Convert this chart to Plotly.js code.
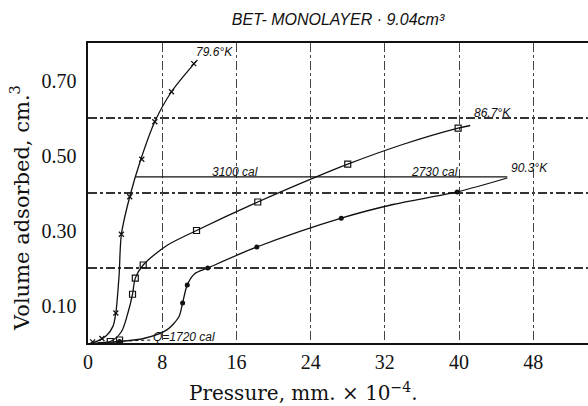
<!DOCTYPE html>
<html>
<head>
<meta charset="utf-8">
<script src="https://cdn.plot.ly/plotly-3.0.1.min.js"></script>
<style>html,body{margin:0;padding:0;background:#fff;}#chart{width:588px;height:406px;}</style>
</head>
<body>
<div id="chart"></div>
<script>
// ---- data ----
const xTicks = [0, 8, 16, 24, 32, 40, 48];
const yTickVals = [0.1, 0.3, 0.5, 0.7];
const yTickText = ['0.10', '0.30', '0.50', '0.70'];
const yGridVals = [0.2, 0.4, 0.6];

// 79.6 K isotherm (smooth curve + measured points)
const c796_x = [0.3, 1.0, 2.0, 2.7, 3.0, 3.35, 3.6, 4.5, 5.7, 7.2, 9.0, 11.8];
const c796_y = [0.0, 0.005, 0.02, 0.045, 0.08, 0.18, 0.29, 0.39, 0.49, 0.59, 0.67, 0.755];
const p796_x = [0.5, 1.5, 3.0, 3.6, 4.5, 5.8, 7.2, 9.0, 11.4];
const p796_y = [0.003, 0.012, 0.08, 0.29, 0.39, 0.49, 0.59, 0.67, 0.745];

// 86.7 K isotherm
const c867_x = [0.3, 2.4, 3.6, 4.3, 4.8, 5.1, 5.95, 8.5, 11.7, 18.3, 24.6, 28.0, 34.0, 39.9, 41.2];
const c867_y = [0.0, 0.004, 0.03, 0.08, 0.13, 0.173, 0.208, 0.26, 0.30, 0.376, 0.443, 0.477, 0.53, 0.573, 0.58];
const p867_x = [2.4, 3.4, 4.8, 5.1, 5.95, 11.7, 18.3, 28.0, 39.9];
const p867_y = [0.004, 0.008, 0.13, 0.173, 0.208, 0.30, 0.376, 0.477, 0.573];

// 90.3 K isotherm
const c903_x = [1.0, 3.4, 6.0, 8.5, 9.8, 10.2, 10.7, 11.5, 12.9, 18.2, 27.3, 33.0, 39.8, 45.2];
const c903_y = [0.0, 0.004, 0.012, 0.035, 0.07, 0.107, 0.155, 0.185, 0.20, 0.256, 0.333, 0.37, 0.403, 0.44];
const p903_x = [3.4, 10.2, 10.7, 12.9, 18.2, 27.3, 39.8];
const p903_y = [0.004, 0.107, 0.155, 0.20, 0.256, 0.333, 0.403];

// isosteric connecting lines
const iso_x = [5.1, 45.2];
const iso_y = [0.443, 0.443];
const q_x = [3.8, 6.8];
const q_y = [0.005, 0.008];

// labels
const labels = [
  {text: '79.6°K', x: 13.6, y: 0.775},
  {text: '86.7°K', x: 43.6, y: 0.614},
  {text: '90.3°K', x: 47.6, y: 0.466},
  {text: '3100 cal', x: 15.8, y: 0.457},
  {text: '2730 cal', x: 37.3, y: 0.457},
  {text: 'Q=1720 cal', x: 10.4, y: 0.017}
];

const ink = '#111';
const lineStyle = {color: ink, width: 1.3, shape: 'spline', smoothing: 0.8};

const traces = [
  {x: c796_x, y: c796_y, mode: 'lines', line: lineStyle, hoverinfo: 'skip'},
  {x: p796_x, y: p796_y, mode: 'markers', marker: {symbol: 'x-thin-open', size: 5, color: ink, line: {color: ink, width: 1.2}}},
  {x: c867_x, y: c867_y, mode: 'lines', line: lineStyle, hoverinfo: 'skip'},
  {x: p867_x, y: p867_y, mode: 'markers', marker: {symbol: 'square-open', size: 6, color: ink, line: {color: ink, width: 1.2}}},
  {x: c903_x, y: c903_y, mode: 'lines', line: lineStyle, hoverinfo: 'skip'},
  {x: p903_x, y: p903_y, mode: 'markers', marker: {symbol: 'circle', size: 5, color: ink}},
  {x: iso_x, y: iso_y, mode: 'lines', line: {color: ink, width: 1.3}},
  {x: q_x, y: q_y, mode: 'lines', line: {color: ink, width: 1, dash: 'dot'}}
];

const serif = 'Liberation Serif, Times New Roman, serif';
const wideSerif = 'DejaVu Serif, Liberation Serif, serif';
const hand = 'Liberation Sans, Arial, sans-serif';

const annos = labels.map(l => ({
  text: '<i>' + l.text + '</i>', x: l.x, y: l.y, xref: 'x', yref: 'y',
  showarrow: false, font: {family: hand, size: 12, color: ink}
}));
annos.push({
  text: 'Pressure, mm. × 10<sup>−4</sup>.', xref: 'paper', yref: 'paper',
  x: 0.43, y: -0.163, xanchor: 'center', yanchor: 'middle', showarrow: false,
  font: {family: wideSerif, size: 20, color: ink}
});
annos.push({
  text: 'Volume adsorbed, cm.<sup>3</sup>', xref: 'paper', yref: 'paper',
  x: -0.136, y: 0.45, xanchor: 'center', yanchor: 'middle', textangle: -90, showarrow: false,
  font: {family: wideSerif, size: 21, color: ink}
});

const layout = {
  width: 588, height: 406,
  margin: {l: 88, r: 0, t: 43, b: 63, pad: 0},
  paper_bgcolor: '#fff', plot_bgcolor: '#fff',
  showlegend: false,
  title: {
    text: '<i>BET- MONOLAYER · 9.04cm³</i>',
    font: {family: hand, size: 16, color: ink},
    xref: 'paper', x: 0.5, xanchor: 'center',
    yref: 'container', y: 0.953, yanchor: 'middle'
  },
  xaxis: {
    range: [0, 53.9],
    tickmode: 'array', tickvals: xTicks,
    ticks: '', showline: true, mirror: true, linecolor: ink, linewidth: 1.6,
    showgrid: true, gridcolor: '#444', gridwidth: 1, griddash: 'dashdot',
    zeroline: false,
    tickfont: {family: serif, size: 20, color: ink}
  },
  yaxis: {
    range: [0, 0.8],
    tickmode: 'array', tickvals: yTickVals, ticktext: yTickText,
    ticks: '', showline: true, mirror: false, linecolor: ink, linewidth: 1.6,
    showgrid: false, zeroline: false,
    ticklabelstandoff: 6,
    tickfont: {family: serif, size: 20, color: ink},
    minor: {tickmode: 'array', tickvals: yGridVals, showgrid: true, gridcolor: '#333', gridwidth: 1.2, griddash: 'dashdot', ticks: ''}
  },
  annotations: annos
};

Plotly.newPlot('chart', traces, layout, {staticPlot: true, displayModeBar: false});
</script>
</body>
</html>
